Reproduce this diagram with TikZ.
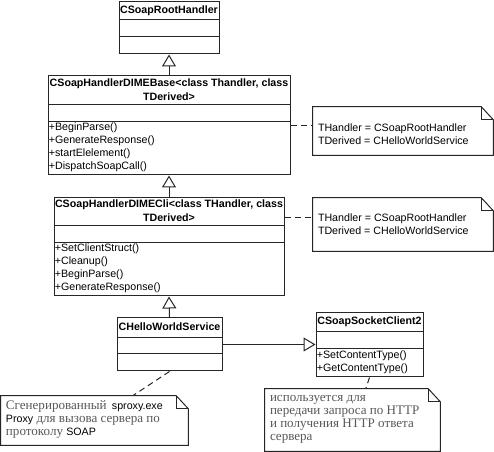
\documentclass[tikz,border=0pt]{standalone}
\usepackage{fontspec}
\setmainfont{Liberation Sans}
\newfontfamily\rusfont{Liberation Serif}
\usetikzlibrary{
  arrows.meta,
  positioning,
  calc,
  fit
}
\tikzset{
  % Class box outline
  classbox/.style={
    draw=black!85, line width=0.75pt, fill=white,
    inner sep=0pt, minimum size=0pt
  },
  % Compartment divider
  divider/.style={
    draw=black!85, line width=0.75pt
  },
  % Class name
  classname/.style={
    font=\fontsize{8}{10.2}\selectfont\bfseries,
    align=center, inner sep=0pt
  },
  % Operation list
  oplist/.style={
    font=\fontsize{8}{9.7}\selectfont,
    align=left, anchor=west, inner xsep=0.8pt, inner ysep=0pt
  },
  % Note frame
  notebox/.style={
    inner sep=0pt, minimum size=0pt
  },
  noteline/.style={
    draw=black!85, line width=0.75pt, fill=white
  },
  % Note texts
  notetext/.style={
    font=\fontsize{8}{9.8}\selectfont,
    align=left, anchor=west, inner sep=0pt
  },
  rustext/.style={
    font=\rusfont\fontsize{9.8}{9.75}\selectfont, text=black!65,
    align=left, anchor=west, inner sep=0pt
  },
  % Generalization arrow
  inherit/.style={
    -{Triangle[open, length=9pt, width=10.5pt]},
    draw=black!85, line width=0.75pt
  },
  % Note anchor line
  notelink/.style={
    draw=black!85, line width=0.75pt, dash pattern=on 4.5pt off 3pt
  },
}
\newcommand{\lat}[1]{{\normalfont\fontsize{8}{9.75}\selectfont\color{black}#1}}

\begin{document}
\begin{tikzpicture}[x=0.75pt, y=-0.75pt]

\useasboundingbox (0,0) rectangle (494,452);

% ── Class boxes ───────────────────────────────────────────────────────────────
\node[classbox, fit={(119,2) (219,54)}]    (root)   {};
\node[classbox, fit={(48,76) (290,175)}]   (base)   {};
\node[classbox, fit={(54,198) (284,296)}]  (cli)    {};
\node[classbox, fit={(117,318) (222,371)}] (hello)  {};
\node[classbox, fit={(316,313) (423,377)}] (socket) {};

% Compartment dividers (offset from the top edge)
\foreach \b/\d in {root/18, root/35, base/29, base/46, cli/28, cli/45,
                   hello/20, hello/36, socket/19, socket/36}{
  \draw[divider] ($(\b.north west)+(0,\d)$) -- ($(\b.north east)+(0,\d)$);
}

% Class names
\node[classname] (rootName)   at ($(root.north)+(0,9)$)   {CSoapRootHandler};
\node[classname] (baseName)   at ($(base.north)+(0,14)$)
  {CSoapHandlerDIMEBase<class Thandler, class\\TDerived>};
\node[classname] (cliName)    at ($(cli.north)+(0,13)$)
  {CSoapHandlerDIMECli<class THandler, class\\TDerived>};
\node[classname] (helloName)  at ($(hello.north)+(0,9.5)$)  {CHelloWorldService};
\node[classname] (socketName) at ($(socket.north)+(0,9.5)$) {CSoapSocketClient2};

% Operations
\node[oplist] (baseOps) at ($(base.north west)+(0,72)$)
  {+BeginParse()\\+GenerateResponse()\\+startElelement()\\+DispatchSoapCall()};
\node[oplist] (cliOps) at ($(cli.north west)+(0,71)$)
  {+SetClientStruct()\\+Cleanup()\\+BeginParse()\\+GenerateResponse()};
\node[oplist] (socketOps) at ($(socket.north west)+(0,50)$)
  {+SetContentType()\\+GetContentType()};

% ── Generalizations ───────────────────────────────────────────────────────────
\draw[inherit] (base.north) -- (root.south);
\draw[inherit] (cli.north) -- (base.south);
\draw[inherit] (hello.north) -- (cli.south);
\draw[inherit] (hello.east) -- (hello.east -| socket.west);

% ── Notes ─────────────────────────────────────────────────────────────────────
\node[notebox, fit={(313,107) (493,155)}] (noteA)     {};
\node[notebox, fit={(313,198) (493,251)}] (noteB)     {};
\node[notebox, fit={(1,396) (188,445)}]   (helloNote) {};
\node[notebox, fit={(265,389) (440,451)}] (sockNote)  {};

\foreach \n in {noteA, noteB, helloNote, sockNote}{
  \draw[noteline]
    (\n.north west) -- ($(\n.north east)+(-12,0)$)
    -- ($(\n.north east)+(0,13)$) -- (\n.south east)
    -- (\n.south west) -- cycle;
  \draw[noteline, fill=none]
    ($(\n.north east)+(-12,0)$) |- ($(\n.north east)+(0,13)$);
}

\node[notetext] (noteAText) at ($(noteA.west)+(5,3)$)
  {THandler = CSoapRootHandler\\TDerived = CHelloWorldService};
\node[notetext] (noteBText) at ($(noteB.west)+(5,0)$)
  {THandler = CSoapRootHandler\\TDerived = CHelloWorldService};
\node[rustext] (helloNoteText) at ($(helloNote.west)+(5,-1.5)$)
  {Сгенерированный\hspace{4pt}\lat{sproxy.exe}\\
   \lat{Proxy} для вызова сервера по\\
   протоколу \lat{SOAP}};
\node[rustext] (sockNoteText) at ($(sockNote.west)+(5,-0.5)$)
  {используется для\\передачи запроса по HTTP\\и получения HTTP ответа\\сервера};

% ── Note links ────────────────────────────────────────────────────────────────
\coordinate (cliTap) at ($(cli.north east)+(0,20)$);
\draw[notelink] (base.east) -- (base.east -| noteA.west);
\draw[notelink] (cliTap) -- (cliTap -| noteB.west);
\draw[notelink] (hello.south) -- ($(helloNote.north west)+(132,0)$);
\draw[notelink] (socket.south) -- ($(sockNote.north west)+(101,0)$);

\end{tikzpicture}
\end{document}
